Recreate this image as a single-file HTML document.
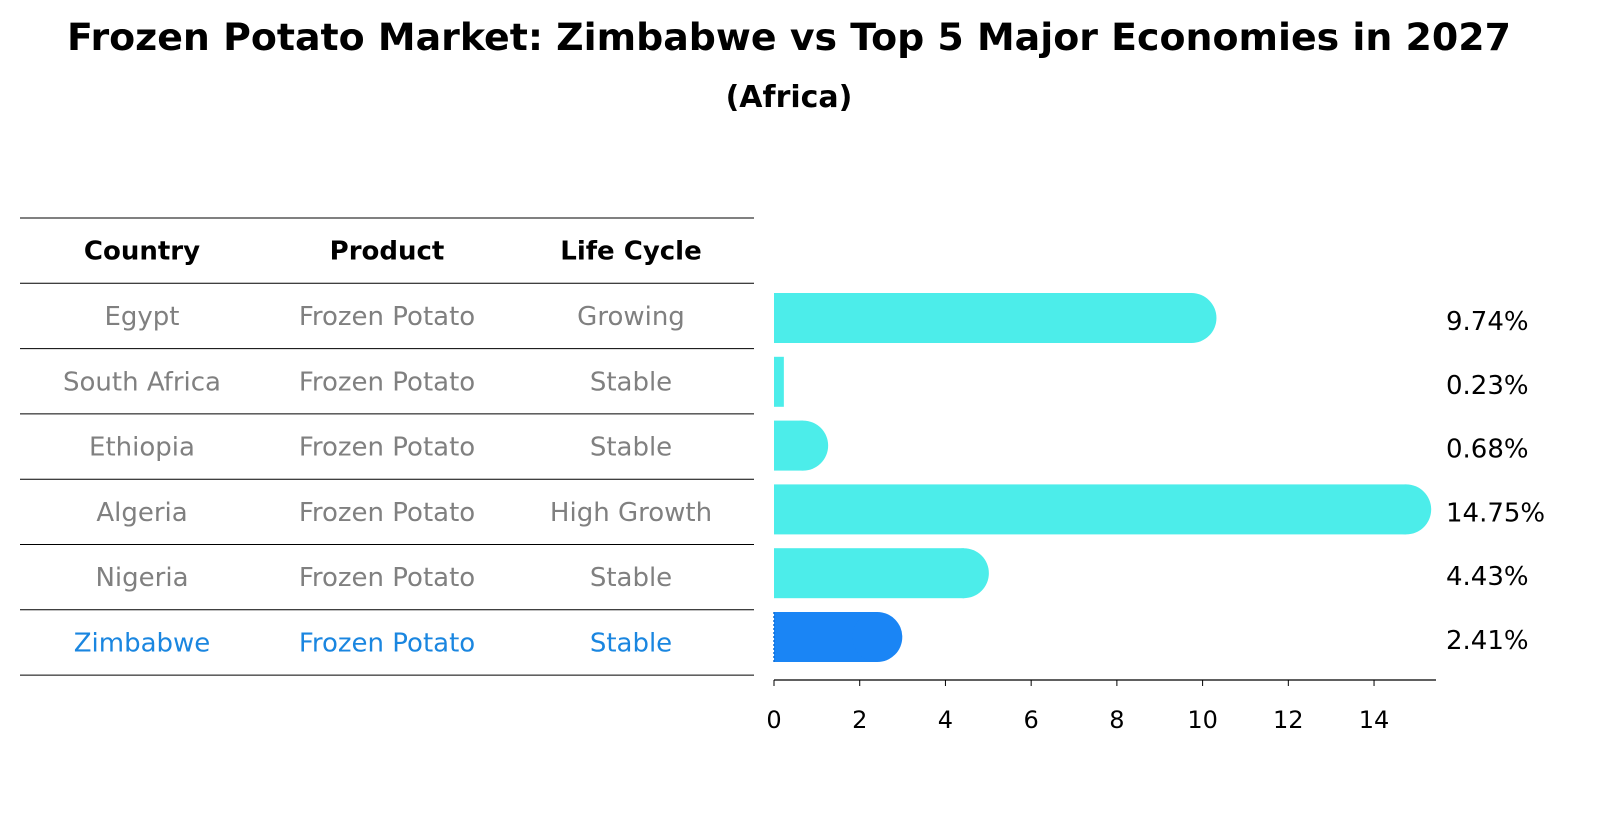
<!DOCTYPE html>
<html><head><meta charset="utf-8"><style>
body{margin:0;background:#fff;font-family:"Liberation Sans","DejaVu Sans",sans-serif;}
svg text{font-family:"DejaVu Sans","Liberation Sans",sans-serif;}
</style></head><body>
<svg id="c" width="1604" height="823" viewBox="0 0 1604 823" xmlns="http://www.w3.org/2000/svg">
<text x="789" y="50" text-anchor="middle" font-size="37" font-weight="bold" textLength="1444" lengthAdjust="spacingAndGlyphs">Frozen Potato Market: Zimbabwe vs Top 5 Major Economies in 2027</text>
<text x="789" y="107" text-anchor="middle" font-size="30" font-weight="bold">(Africa)</text>
<g id="tbl"></g>
<g id="bars"></g>
</svg>
<script>
const countries=["Egypt","South Africa","Ethiopia","Algeria","Nigeria","Zimbabwe"];
const products=["Frozen Potato","Frozen Potato","Frozen Potato","Frozen Potato","Frozen Potato","Frozen Potato"];
const lifeCycles=["Growing","Stable","Stable","High Growth","Stable","Stable"];
const values=[9.74,0.23,0.68,14.75,4.43,2.41];
const valueLabels=["9.74%","0.23%","0.68%","14.75%","4.43%","2.41%"];
const ticks=[0,2,4,6,8,10,12,14];
const highlight="Zimbabwe";

const NS="http://www.w3.org/2000/svg";
function mk(tag,attrs,parent,text){const e=document.createElementNS(NS,tag);for(const k in attrs)e.setAttribute(k,attrs[k]);if(text!==undefined)e.textContent=text;parent.appendChild(e);return e;}
const tbl=document.getElementById('tbl'),bars=document.getElementById('bars');
const rowTop=218,rowH=65.3,colX=[142,387,631];
const xS=v=>774+v*42.86;
const rowY=i=>318+i*63.8;
for(let i=0;i<=7;i++){const l=mk('line',{x1:20,x2:754,y1:rowTop+i*rowH,y2:rowTop+i*rowH,stroke:'#000','stroke-width':1},tbl);

}
["Country","Product","Life Cycle"].forEach((h,j)=>{const t=mk('text',{x:colX[j],y:rowTop+rowH/2+9,'text-anchor':'middle','font-size':26,'font-weight':'bold'},tbl,h);

});
countries.forEach((c,i)=>{const col=c===highlight?'#1a86e0':'#808080';const y=rowTop+rowH*(i+1.5)+9;
[c,products[i],lifeCycles[i]].forEach((v,j)=>{const t=mk('text',{x:colX[j],y:y,'text-anchor':'middle','font-size':26,fill:col},tbl,v);

});});
const bh=50,r=25;
values.forEach((v,i)=>{const hi=countries[i]===highlight;const col=hi?'#1a85f5':'#4cedea';const y=rowY(i);
const g=mk('g',{},bars);


const w=xS(v)-xS(0);
mk('rect',{x:xS(0),y:y-bh/2,width:w,height:bh,fill:col},g);
if(w>r)mk('circle',{cx:xS(v),cy:y,r:r,fill:col},g);
if(hi)mk('line',{x1:xS(0),x2:xS(0),y1:y-bh/2,y2:y+bh/2,stroke:'#0f6fd6','stroke-dasharray':'2 2','stroke-width':1.5},g);
const t=mk('text',{x:1446,y:y+12,'font-size':26},bars,valueLabels[i]);

});
const ax=mk('line',{x1:774,x2:1436,y1:680,y2:680,stroke:'#000','stroke-width':1.2},bars);


ticks.forEach(tv=>{mk('line',{x1:xS(tv),x2:xS(tv),y1:680,y2:686,stroke:'#000'},bars);
const t=mk('text',{x:xS(tv),y:728,'text-anchor':'middle','font-size':24},bars,tv);

});
</script>
</body></html>
